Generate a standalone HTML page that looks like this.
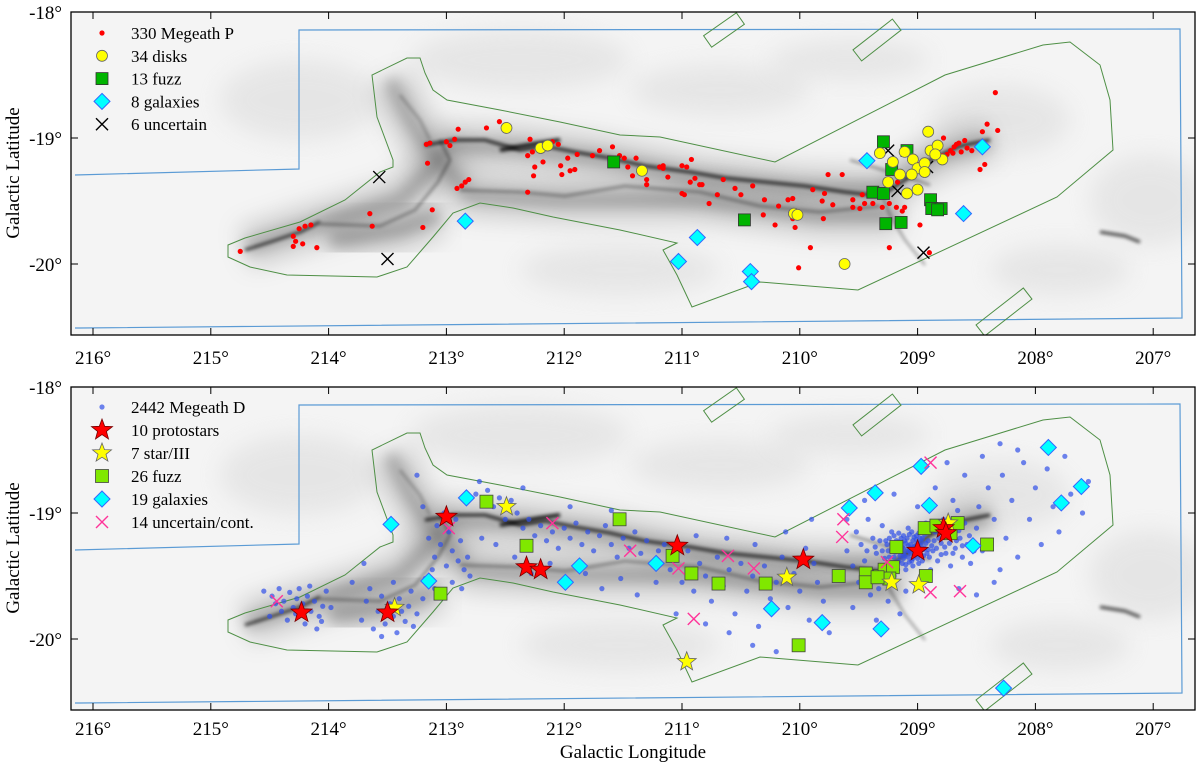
<!DOCTYPE html>
<html><head><meta charset="utf-8">
<style>
html,body{margin:0;padding:0;background:#fff;}
svg{display:block;font-family:"Liberation Serif",serif;}
</style></head>
<body>
<svg id="chart" width="1200" height="767" viewBox="0 0 1200 767" xmlns="http://www.w3.org/2000/svg">
<defs>
<filter id="blur12" x="-20%" y="-50%" width="140%" height="200%"><feGaussianBlur stdDeviation="12"/></filter>
<filter id="blur6" x="-20%" y="-50%" width="140%" height="200%"><feGaussianBlur stdDeviation="6"/></filter>
<filter id="blur2" x="-20%" y="-50%" width="140%" height="200%"><feGaussianBlur stdDeviation="1.8"/></filter>
<clipPath id="clipTop"><rect x="71" y="12" width="1124" height="323"/></clipPath>
<clipPath id="clipBot"><rect x="71" y="387" width="1124" height="323"/></clipPath>
</defs>
</svg>
<script>
// ---------- data (Galactic longitude l [deg], latitude b [deg]) ----------
const xTicks=[216,215,214,213,212,211,210,209,208,207];
const yTicks=[-18,-19,-20];
const xTickLabels=["216°","215°","214°","213°","212°","211°","210°","209°","208°","207°"];
const yTickLabels=["-18°","-19°","-20°"];

// top panel
const megeathP=[[214.75,-19.90],[214.3,-19.78],[214.25,-19.72],[214.2,-19.70],[214.15,-19.69],[214.28,-19.82],[214.22,-19.84],[214.1,-19.87],[214.3,-19.86],[213.63,-19.70],
[213.17,-19.05],[213.14,-19.04],[213.0,-19.03],[212.93,-19.01],[212.9,-18.93],[212.66,-18.92],[212.55,-18.87],[212.97,-19.06],[213.16,-19.2],[212.91,-19.40],[212.87,-19.38],[212.84,-19.35],[212.81,-19.33],[213.12,-19.57],[213.2,-19.71],[213.65,-19.6],
[212.29,-19.01],[212.27,-19.11],[212.31,-19.14],[212.25,-19.23],[212.26,-19.3],[212.18,-19.19],[212.1,-19.03],[212.05,-19.05],[211.97,-19.16],[212.03,-19.22],[211.95,-19.26],[211.91,-19.25],[212.02,-19.29],[211.89,-19.13],[211.76,-19.14],[211.59,-19.07],[211.53,-19.14],[211.49,-19.16],[211.39,-19.16],[211.46,-19.23],[211.42,-19.3],[211.3,-19.33],[211.3,-19.37],[211.16,-19.22],[211.16,-19.24],[211.12,-19.31],[211.0,-19.22],[210.96,-19.23],[210.92,-19.17],[210.89,-19.32],[210.93,-19.35],[210.83,-19.37],[211.0,-19.44],[210.98,-19.45],[210.77,-19.52],[212.31,-19.43],
[211.19,-19.23],[210.85,-19.37],[210.65,-19.33],[210.4,-19.38],[210.3,-19.49],[210.18,-19.54],[210.21,-19.69],[210.31,-19.61],[210.1,-19.49],[210.06,-19.48],[210.06,-19.64],[210.04,-19.71],[209.89,-19.41],[209.79,-19.44],[209.81,-19.5],[209.72,-19.53],[209.8,-19.64],[209.91,-19.87],[210.01,-20.03],[209.76,-19.29],[209.64,-19.29],[209.55,-19.49],[209.55,-19.55],[209.47,-19.45],[209.45,-19.52],[209.49,-19.56],[209.38,-19.52],[209.24,-19.52],[209.18,-19.55],[209.13,-19.58],[209.11,-19.55],[209.3,-19.55],[209.24,-19.87],[208.98,-19.69],[209.17,-19.35],[209.0,-19.21],[208.78,-19.0],[208.72,-19.1],[208.7,-19.12],[208.75,-19.13],[208.67,-19.05],[208.65,-19.04],[208.79,-19.14],[208.63,-19.11],[208.54,-19.1],[208.43,-19.21],[208.47,-19.25],[208.45,-18.95],[208.41,-18.89],[208.32,-18.94],[208.34,-18.64],[208.9,-19.91],[208.69,-19.07],[208.6,-19.02],[208.58,-19.08],[210.55,-19.4],[210.5,-19.45],[210.7,-19.45],[211.6,-19.2],[211.7,-19.1]];
const disks=[[212.49,-18.92],[212.20,-19.08],[212.14,-19.06],[211.34,-19.26],[209.32,-19.12],[208.91,-18.95],[208.89,-19.10],[209.11,-19.11],[209.04,-19.17],[209.00,-19.24],[208.94,-19.20],[208.83,-19.06],[208.79,-19.17],[208.94,-19.27],[209.25,-19.35],[209.09,-19.44],[209.00,-19.41],[210.05,-19.60],[210.02,-19.61],[209.62,-20.00],[209.21,-19.19],[209.05,-19.29],[208.85,-19.13],[209.15,-19.29]];
const fuzzTop=[[209.29,-19.03],[209.09,-19.10],[209.22,-19.25],[209.38,-19.43],[209.29,-19.44],[208.89,-19.49],[208.88,-19.56],[208.80,-19.56],[209.27,-19.68],[209.14,-19.67],[210.47,-19.65],[211.58,-19.19],[208.83,-19.57]];
const galaxiesTop=[[212.84,-19.66],[210.87,-19.79],[211.03,-19.98],[210.42,-20.06],[210.41,-20.14],[209.43,-19.18],[208.45,-19.07],[208.61,-19.60]];
const uncertainTop=[[213.57,-19.31],[213.50,-19.96],[209.25,-19.10],[208.92,-19.23],[209.17,-19.42],[208.95,-19.91]];

// bottom panel
const megeathD=[[214.55,-19.62],[214.48,-19.66],[214.42,-19.60],[214.38,-19.70],[214.33,-19.63],[214.30,-19.75],[214.27,-19.68],[214.22,-19.72],[214.18,-19.66],[214.15,-19.78],[214.12,-19.70],[214.08,-19.82],[214.05,-19.74],[214.40,-19.78],[214.35,-19.85],[214.20,-19.88],[214.10,-19.92],[214.45,-19.72],[214.25,-19.60],[214.02,-19.62],[213.98,-19.75],[214.28,-19.80],[214.50,-19.82],[214.16,-19.58],[214.06,-19.86],
[213.72,-19.85],[213.68,-19.70],[213.62,-19.92],[213.58,-19.78],[213.55,-19.66],[213.52,-19.88],[213.48,-19.72],[213.45,-19.82],[213.42,-19.95],[213.40,-19.68],[213.38,-19.78],[213.35,-19.86],[213.32,-19.74],[213.30,-19.62],[213.28,-19.90],[213.25,-19.80],[213.55,-19.98],[213.65,-19.60],[213.80,-19.55],[213.70,-19.40],[213.45,-19.55],[213.20,-19.68],[213.18,-19.52],[213.12,-19.45],[213.10,-19.60],
[213.15,-19.20],[213.08,-19.10],[213.05,-19.25],[213.02,-19.00],[212.98,-19.15],[212.95,-19.30],[212.92,-19.05],[212.90,-19.38],[212.88,-19.22],[212.85,-19.45],[212.82,-19.35],[212.80,-19.50],[213.20,-18.95],[213.10,-19.35],[212.95,-19.55],[213.00,-19.42],[212.87,-19.60],[213.25,-18.70],[212.75,-18.85],[212.70,-19.20],
[212.65,-18.82],[212.60,-18.95],[212.55,-18.88],[212.50,-19.05],[212.45,-18.90],[212.40,-19.00],[212.35,-19.12],[212.30,-19.05],[212.25,-19.18],[212.20,-19.10],[212.15,-19.22],[212.10,-19.15],[212.05,-19.28],[212.00,-19.12],[211.95,-19.20],[211.90,-19.08],[211.85,-19.25],[211.80,-19.15],[211.75,-19.30],[211.70,-19.18],[211.65,-19.10],[211.60,-19.25],[211.55,-19.35],[211.50,-19.20],[211.45,-19.28],[211.40,-19.15],[211.35,-19.32],[211.30,-19.22],[211.25,-19.40],[211.20,-19.30],[212.58,-19.25],[212.42,-19.35],[212.28,-19.48],[212.12,-19.40],[211.98,-19.55],[211.82,-19.48],[211.68,-19.60],[211.52,-19.52],[211.38,-19.65],[211.22,-19.55],[212.72,-18.75],[212.35,-18.80],[211.95,-18.95],[211.60,-18.98],
[211.15,-19.25],[211.10,-19.45],[211.05,-19.35],[211.00,-19.55],[210.95,-19.30],[210.90,-19.62],[210.85,-19.40],[210.80,-19.50],[210.75,-19.70],[210.70,-19.35],[210.65,-19.58],[210.60,-19.45],[210.55,-19.80],[210.50,-19.40],[210.45,-19.62],[210.40,-19.50],[210.35,-19.90],[210.30,-19.42],[210.25,-19.68],[210.20,-19.55],[210.15,-19.35],[210.10,-19.75],[210.05,-19.48],[210.00,-19.62],[209.95,-19.28],[209.92,-19.85],[209.88,-19.40],[209.85,-19.55],[210.80,-19.88],[210.60,-19.95],[210.40,-20.05],[210.20,-20.10],[211.05,-19.80],[210.88,-19.18],[210.62,-19.20],[210.38,-19.25],[210.12,-19.15],[209.90,-19.05],[209.80,-19.70],[209.75,-19.95],
[209.60,-19.30],[209.55,-19.42],[209.52,-19.15],[209.50,-19.55],[209.48,-19.25],[209.45,-19.38],[209.42,-19.05],[209.40,-19.48],[209.38,-19.20],[209.35,-19.32],[209.33,-19.60],[209.30,-19.10],[209.28,-19.42],[209.26,-19.25],[209.24,-19.35],[209.22,-19.15],[209.20,-19.50],[209.18,-19.28],[209.16,-19.38],[209.14,-19.20],[209.12,-19.32],[209.10,-19.45],[209.08,-19.12],[209.06,-19.25],[209.05,-19.38],[209.03,-19.30],[209.01,-19.18],[208.99,-19.40],[208.97,-19.26],[208.95,-19.34],[208.93,-19.08],[208.91,-19.22],[208.89,-19.45],[208.87,-19.30],[208.85,-19.15],[208.83,-19.38],[208.80,-19.24],[208.78,-19.05],[208.76,-19.32],[208.74,-19.18],[208.72,-19.42],[208.70,-19.10],[208.68,-19.28],[208.66,-18.98],[208.64,-19.20],[208.62,-19.35],[208.60,-19.08],[208.58,-19.25],[209.18,-19.22],[209.12,-19.28],[209.08,-19.35],[209.04,-19.22],[209.02,-19.33],[208.98,-19.28],[209.15,-19.30],[209.10,-19.24],[209.07,-19.30],[209.00,-19.24],[208.96,-19.20],[208.94,-19.28],[209.20,-19.35],[209.25,-19.30],[209.13,-19.40],[209.05,-19.15],[208.90,-19.35],[209.30,-19.30],[209.40,-19.65],[209.25,-19.70],[209.10,-19.62],[208.95,-19.55],[209.55,-19.75],[209.35,-19.85],[209.15,-19.80],[209.60,-19.05],[209.45,-18.90],[209.20,-18.85],[209.00,-18.95],[208.85,-18.80],[208.70,-18.90],
[209.17,-19.26],[209.11,-19.34],[209.06,-19.28],[209.02,-19.26],[208.98,-19.32],[209.14,-19.24],[209.09,-19.20],[208.93,-19.24],[209.21,-19.28],[209.04,-19.36],[208.88,-19.26],[209.27,-19.22],[208.99,-19.16],[209.09,-19.30],[208.96,-19.38],[209.19,-19.42],
[209.16,-19.23],[209.13,-19.27],[209.11,-19.22],[209.08,-19.26],[209.06,-19.32],[209.03,-19.27],[209.01,-19.21],[208.99,-19.30],[208.97,-19.23],[208.95,-19.29],[209.19,-19.31],[209.15,-19.34],[209.12,-19.36],[209.07,-19.39],[209.03,-19.34],[209.00,-19.36],[208.97,-19.34],[209.22,-19.24],[209.24,-19.20],[209.20,-19.18],[209.16,-19.16],[209.12,-19.18],[209.07,-19.17],[209.03,-19.19],[208.98,-19.20],[208.94,-19.17],[208.91,-19.29],[208.92,-19.32],[209.23,-19.40],[209.17,-19.45],[209.10,-19.41],[209.04,-19.42],[208.86,-19.22],[208.84,-19.28],[208.82,-19.20],[208.80,-19.33],[208.77,-19.27],[208.73,-19.24],[208.70,-19.32],[208.67,-19.22],[208.65,-19.14],[208.62,-19.26],[208.56,-19.18],[208.52,-19.30],[208.88,-19.12],[208.92,-19.10],[209.28,-19.36],[209.32,-19.22],[209.36,-19.27],[209.43,-19.30],
[208.55,-19.40],[208.50,-19.12],[208.48,-18.95],[208.45,-19.30],[208.40,-18.80],[208.35,-19.05],[208.30,-19.45],[208.28,-18.70],[208.25,-19.20],[208.20,-18.90],[208.15,-19.35],[208.10,-18.60],[208.05,-19.05],[208.00,-18.80],[207.95,-19.25],[207.90,-18.65],[207.85,-18.95],[207.80,-19.15],[207.75,-18.55],[207.70,-18.85],[208.60,-18.70],[208.45,-18.55],[208.30,-18.45],[208.15,-18.50],[208.65,-19.60],[208.50,-19.65],[208.35,-19.55],[207.60,-19.00],[207.55,-18.75],[208.75,-18.60]];
const protostars=[[214.23,-19.79],[213.50,-19.79],[213.00,-19.03],[212.32,-19.43],[212.20,-19.45],[211.04,-19.26],[209.97,-19.37],[209.00,-19.30],[208.78,-19.12],[208.76,-19.16]];
const starIII=[[212.49,-18.95],[213.44,-19.75],[210.96,-20.18],[210.11,-19.51],[209.22,-19.55],[208.99,-19.57],[208.74,-19.08]];
const fuzzBot=[[212.66,-18.91],[212.32,-19.26],[213.05,-19.64],[211.53,-19.05],[211.08,-19.34],[210.92,-19.48],[210.69,-19.56],[210.29,-19.56],[210.01,-20.05],[209.67,-19.50],[209.44,-19.48],[209.44,-19.55],[209.32,-19.50],[209.28,-19.45],[209.21,-19.43],[209.24,-19.52],[209.18,-19.27],[208.93,-19.50],[208.94,-19.12],[208.84,-19.10],[208.72,-19.16],[208.66,-19.08],[208.41,-19.25],[209.34,-19.51]];
const galaxiesBot=[[213.47,-19.09],[212.83,-18.88],[213.15,-19.54],[211.87,-19.42],[211.99,-19.55],[211.22,-19.40],[209.58,-18.96],[209.36,-18.84],[208.97,-18.63],[208.90,-18.94],[208.53,-19.26],[207.89,-18.48],[207.61,-18.79],[207.78,-18.92],[210.24,-19.76],[209.81,-19.87],[209.31,-19.92],[208.27,-20.39]];
const uncertainBot=[[214.44,-19.70],[212.98,-19.12],[212.10,-19.08],[211.44,-19.30],[211.03,-19.44],[210.90,-19.84],[210.61,-19.34],[210.39,-19.44],[209.63,-19.05],[209.64,-19.19],[209.26,-19.39],[208.89,-19.63],[208.64,-19.62],[208.89,-18.60]];

// ---------- scales ----------
const NS="http://www.w3.org/2000/svg";
const svg=document.getElementById('chart');
const X0=93, PXL=117.8, PXB=126;
function xs(l){return X0+(216-l)*PXL;}
function ysT(b){return 12+(-18-b)*PXB;}
function ysB(b){return 387+(-18-b)*PXB;}
function mk(tag,attrs,parent){const e=document.createElementNS(NS,tag);for(const k in attrs)e.setAttribute(k,attrs[k]);(parent||svg).appendChild(e);return e;}

// ---------- panel background (dust + outlines), drawn in top-panel pixels ----------
const dust=document.createElementNS(NS,'g');
dust.setAttribute('id','dustg');


mk('rect',{x:71,y:12,width:1124,height:323,fill:'#f4f4f4'},dust);
[[520,60,110,30],[720,90,90,25],[1000,120,70,35],[1150,200,60,45],[620,270,100,25],[1060,270,70,25],[300,100,80,40],[850,60,80,20]].forEach(c=>mk('ellipse',{cx:c[0],cy:c[1],rx:c[2],ry:c[3],fill:'#ccc',opacity:0.35,filter:'url(#blur12)'},dust));
const hazePaths=[
 "M245,248 L300,230 L350,215 L400,200 L430,170 L450,145 L520,148 L600,158 L700,178 L800,188 L880,190 L940,155 L990,140",
 "M390,80 L410,120 L430,150 L470,195 L560,200 L700,200 L820,215 L900,215",
 "M330,240 L400,230 L440,215"];
hazePaths.forEach(d=>mk('path',{d:d,fill:'none',stroke:'#777',"stroke-width":40,opacity:0.35,filter:'url(#blur12)',"stroke-linejoin":'round'},dust));
hazePaths.forEach(d=>mk('path',{d:d,fill:'none',stroke:'#555',"stroke-width":14,opacity:0.3,filter:'url(#blur6)',"stroke-linejoin":'round'},dust));
const darkPaths=[
 ["M245,250 L270,242 L300,232 L320,222",3,0.7],
 ["M320,224 L380,226 L415,210 L438,182 L450,160 L440,140",2,0.45],
 ["M425,145 L455,140 L485,140 L520,150 L545,146 L575,152 L610,158 L645,166 L690,172 L725,178 L765,182 L805,186 L845,192 L880,196 L905,180 L930,160 L960,146 L990,140",3,0.8],
 ["M500,150 L540,143 L560,140",4,0.85],
 ["M460,190 L520,192 L565,196 L625,186 L700,192 L760,206 L820,212 L880,206",2,0.45],
 ["M400,95 L420,120 L430,140",2,0.3],
 ["M880,190 L890,215 L905,240 L925,265",2,0.4],
 ["M1100,232 L1125,236 L1140,242",3,0.7],
 ["M850,160 L900,175 L930,185",2,0.45]];
darkPaths.forEach(p=>mk('path',{d:p[0],fill:'none',stroke:'#000',"stroke-width":p[1],opacity:p[2],filter:'url(#blur2)',"stroke-linejoin":'round'},dust));
// survey boundary (blue) and coverage outline (green)
mk('polyline',{points:"75,175 299,169 299,30 1180,29 1182,318 80,328 75,328",fill:'none',stroke:'#5b9bd5',"stroke-width":1.2},dust);
mk('polygon',{points:"228,245 245,238 300,222 345,200 380,172 393,167 393,160 377,117 372,75 407,58 420,58 425,73 433,90 447,100 500,110 560,122 620,135 660,137 775,162 945,75 1043,45 1070,42 1100,65 1110,100 1113,150 1057,197 858,290 760,282 692,307 677,275 663,250 677,243 620,230 553,217 513,208 480,203 453,213 433,237 407,267 377,277 287,275 250,267 228,257",fill:'none',stroke:'#4e8f45',"stroke-width":1},dust);
mk('rect',{x:-20,y:-7,width:40,height:14,fill:'none',stroke:'#4e8f45',"stroke-width":1,transform:'translate(724,30) rotate(-35)'},dust);
mk('rect',{x:-25,y:-7,width:50,height:14,fill:'none',stroke:'#4e8f45',"stroke-width":1,transform:'translate(877,40) rotate(-38)'},dust);
mk('rect',{x:-30,y:-7,width:60,height:14,fill:'none',stroke:'#4e8f45',"stroke-width":1,transform:'translate(1004,312) rotate(-38)'},dust);

const gTop=mk('g',{"clip-path":'url(#clipTop)'});


gTop.appendChild(dust);
const gBot=mk('g',{"clip-path":'url(#clipBot)'});


mk('use',{href:'#dustg',transform:'translate(0,375)'},gBot);

// ---------- marker helpers ----------
function starPts(cx,cy,R){let s=[];for(let i=0;i<10;i++){const r=i%2?R*0.42:R;const a=-Math.PI/2+i*Math.PI/5;s.push((cx+r*Math.cos(a)).toFixed(1)+','+(cy+r*Math.sin(a)).toFixed(1));}return s.join(' ');}
function drawMarker(type,cx,cy,parent){
 let e;
 if(type==='dotRed') e=mk('circle',{cx:cx,cy:cy,r:2.6,fill:'#ff0000'},parent);
 else if(type==='dotBlue') e=mk('circle',{cx:cx,cy:cy,r:2.6,fill:'#3050e8',opacity:0.7},parent);
 else if(type==='disk') e=mk('circle',{cx:cx,cy:cy,r:5.5,fill:'#ffff00',stroke:'#666',"stroke-width":0.8},parent);
 else if(type==='fuzzTop') e=mk('rect',{x:cx-6,y:cy-6,width:12,height:12,fill:'#00b400',stroke:'#333',"stroke-width":0.8},parent);
 else if(type==='fuzzBot') e=mk('rect',{x:cx-6.5,y:cy-6.5,width:13,height:13,fill:'#80e800',stroke:'#444',"stroke-width":0.8},parent);
 else if(type==='galaxy') e=mk('polygon',{points:`${cx},${cy-8} ${cx+8},${cy} ${cx},${cy+8} ${cx-8},${cy}`,fill:'#00ffff',stroke:'#3366ff',"stroke-width":1},parent);
 else if(type==='xBlack'||type==='xPink'){const c=type==='xBlack'?'#000':'#ff3399';const s=6;e=mk('path',{d:`M${cx-s},${cy-s}L${cx+s},${cy+s}M${cx-s},${cy+s}L${cx+s},${cy-s}`,stroke:c,"stroke-width":1.4,fill:'none'},parent);}
 else if(type==='starRed') e=mk('polygon',{points:starPts(cx,cy,11),fill:'#ff0000',stroke:'#700',"stroke-width":0.8},parent);
 else if(type==='starYel') e=mk('polygon',{points:starPts(cx,cy,10),fill:'#ffff00',stroke:'#666',"stroke-width":0.8},parent);
 return e;
}
function series(arr,type,ys,parent,name){
 const g=mk('g',{},parent);
 
 
 arr.forEach(p=>{const e=drawMarker(type,xs(p[0]),ys(p[1]),g);
  
  });
}
series(megeathP,'dotRed',ysT,gTop,'megeath-p-series');
series(uncertainTop,'xBlack',ysT,gTop,'uncertain-series');
series(galaxiesTop,'galaxy',ysT,gTop,'galaxies-series');
series(fuzzTop,'fuzzTop',ysT,gTop,'fuzz-series');
series(disks,'disk',ysT,gTop,'disks-series');

series(megeathD,'dotBlue',ysB,gBot,'megeath-d-series');
series(fuzzBot,'fuzzBot',ysB,gBot,'fuzz-series-bottom');
series(galaxiesBot,'galaxy',ysB,gBot,'galaxies-series-bottom');
series(uncertainBot,'xPink',ysB,gBot,'uncertain-cont-series');
series(starIII,'starYel',ysB,gBot,'star-iii-series');
series(protostars,'starRed',ysB,gBot,'protostars-series');

// ---------- axes ----------
function axes(top,ys,panel,labOff){
 const g=mk('g',{});
 
 
 mk('rect',{x:71,y:top,width:1124,height:323,fill:'none',stroke:'#000',"stroke-width":1.3},g);
 xTicks.forEach((t,i)=>{const x=xs(t);
  mk('line',{x1:x,x2:x,y1:top+323,y2:top+316,stroke:'#000',"stroke-width":1},g);
  mk('line',{x1:x,x2:x,y1:top,y2:top+7,stroke:'#000',"stroke-width":1},g);
  const tx=mk('text',{x:x,y:top+labOff,"text-anchor":'middle',"font-size":19},g);
  tx.textContent=xTickLabels[i];
  
  
 });
 yTicks.forEach((t,i)=>{const y=ys(t);
  mk('line',{x1:71,x2:78,y1:y,y2:y,stroke:'#000',"stroke-width":1},g);
  mk('line',{x1:1195,x2:1188,y1:y,y2:y,stroke:'#000',"stroke-width":1},g);
  const tx=mk('text',{x:62,y:y+7,"text-anchor":'end',"font-size":19},g);
  tx.textContent=yTickLabels[i];
  
  
 });
 const yt=mk('text',{x:0,y:0,"text-anchor":'middle',"font-size":19,transform:`translate(19,${top+161}) rotate(-90)`},g);
 yt.textContent='Galactic Latitude';
 
 
}
axes(12,ysT,'top-panel',352);
axes(387,ysB,'bottom-panel',348);
const xt=mk('text',{x:633,y:758,"text-anchor":'middle',"font-size":19});
xt.textContent='Galactic Longitude';



// ---------- legends ----------
function legend(items,y0,dy,name){
 const g=mk('g',{});
 
 
 items.forEach((it,i)=>{const y=y0+i*dy;
  const row=mk('g',{},g);
  
  
  drawMarker(it[0],102,y,row);
  const t=mk('text',{x:131,y:y+6,"font-size":17},row);
  t.textContent=it[1];
 });
}
legend([['dotRed','330 Megeath P'],['disk','34 disks'],['fuzzTop','13 fuzz'],['galaxy','8 galaxies'],['xBlack','6 uncertain']],33,22.8,'legend-top');
legend([['dotBlue','2442 Megeath D'],['starRed','10 protostars'],['starYel','7 star/III'],['fuzzBot','26 fuzz'],['galaxy','19 galaxies'],['xPink','14 uncertain/cont.']],407,23,'legend-bottom');
</script>
</body></html>
